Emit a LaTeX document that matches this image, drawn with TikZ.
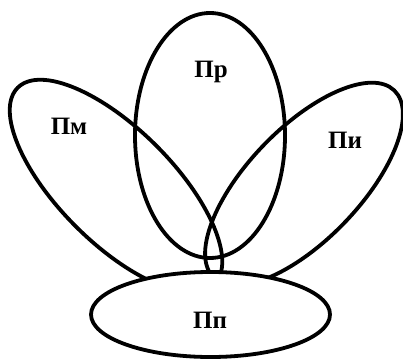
\documentclass[tikz,border=0pt]{standalone}
\usepackage{fontspec}
\setmainfont{Liberation Serif}
\usepackage{tikz}

\tikzset{
  petal/.style={line width=3.8pt},
  lbl/.style={font=\fontsize{25}{30}\selectfont\bfseries, inner sep=0pt}
}

\begin{document}
\begin{tikzpicture}[x=1pt, y=-1pt]
  \useasboundingbox (0,0) rectangle (403,363);

  % Centres
  \coordinate (M) at (116,186);
  \coordinate (I) at (304,184);
  \coordinate (R) at (210,135.5);
  \coordinate (P) at (210.5,314.5);

  % Petals
  \draw[petal, rotate around={-45:(M)}] (M) ellipse [x radius=139, y radius=57];
  \draw[petal, rotate around={46:(I)}] (I) ellipse [x radius=130, y radius=56];
  \draw[petal] (R) ellipse [x radius=75, y radius=122.5];
  \draw[petal, fill=white] (P) ellipse [x radius=119.5, y radius=42.5];

  % Labels
  \node[lbl] (pr) at (211,72) {Пр};
  \node[lbl] (pm) at (69,126) {Пм};
  \node[lbl] (pi) at (345,140) {Пи};
  \node[lbl] (pp) at (210,320) {Пп};
\end{tikzpicture}
\end{document}
